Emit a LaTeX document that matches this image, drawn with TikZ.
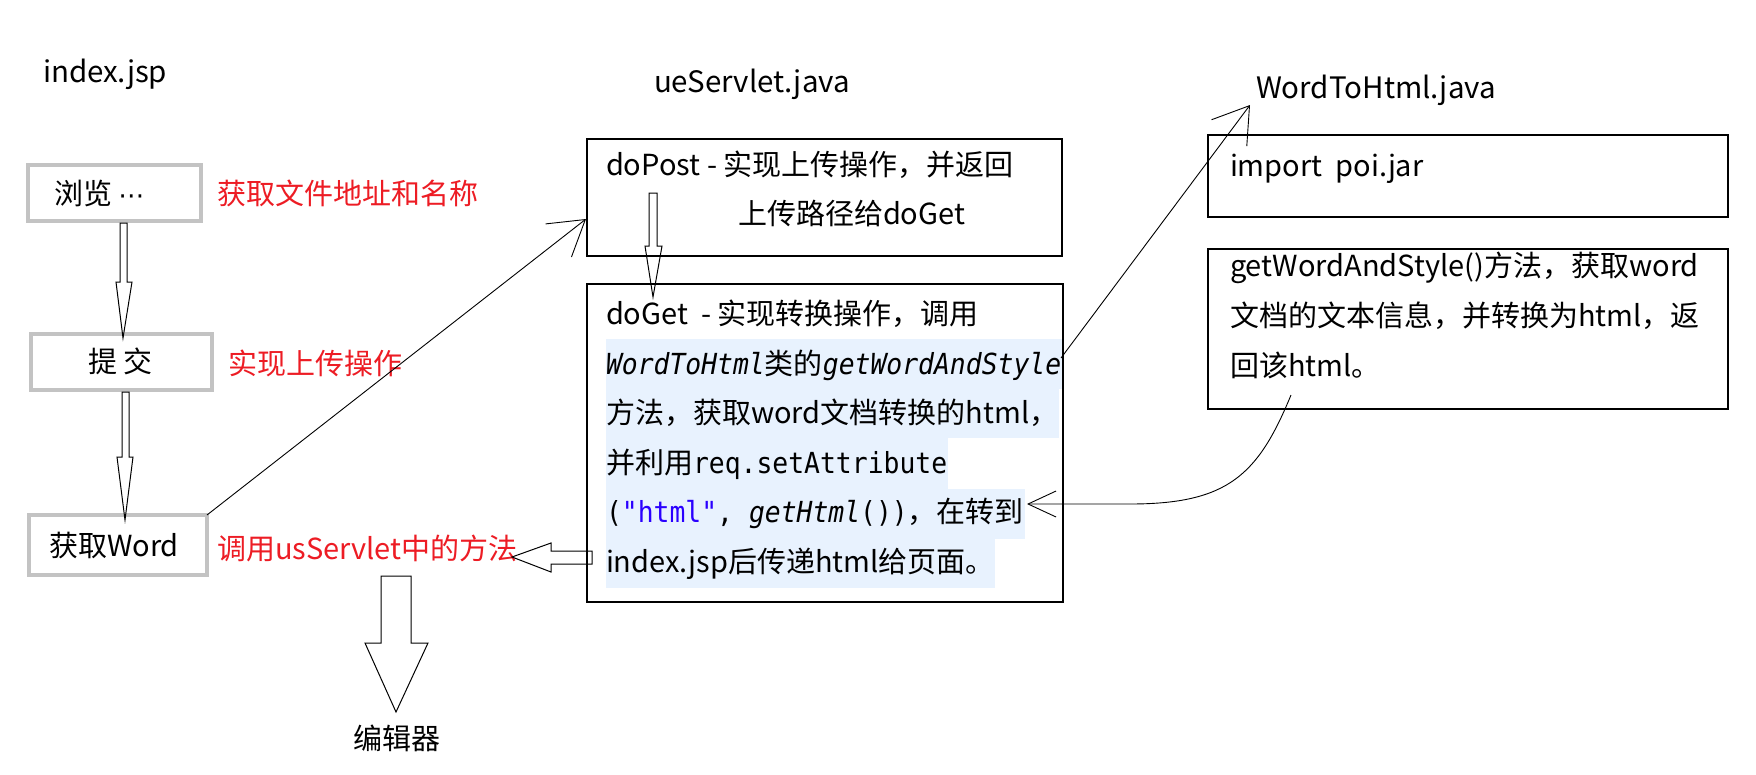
\documentclass[tikz,border=0pt]{standalone}
\usepackage{fontspec}
\setmainfont{Noto Sans CJK SC}
\newfontfamily\mono[FakeStretch=0.91]{DejaVu Sans Mono}
\newfontfamily\dejavu{DejaVu Sans}
\usetikzlibrary{arrows.meta,calc}
\definecolor{lblred}{RGB}{237,28,36}
\definecolor{strblue}{RGB}{42,0,255}
\definecolor{hl}{RGB}{232,242,254}
\definecolor{gborder}{RGB}{195,195,195}
\begin{document}
\begin{tikzpicture}[x=1pt,y=-1pt,
  txt/.style={inner sep=0pt, outer sep=0pt, anchor=west, yshift=-6pt, text height=0.88em, text depth=0.12em, font=\fontsize{29}{34}\selectfont},
  big/.style={txt, font=\fontsize{29.5}{35}\selectfont},
  redtxt/.style={txt, text=lblred},
  gbox/.style={draw=gborder, line width=4.5pt, inner sep=0pt, outer sep=0pt},
  bbox/.style={draw=black, line width=1.3pt, inner sep=0pt, outer sep=0pt},
  conn/.style={draw=black, line width=0.9pt},
  hollow/.style={draw=black, line width=1pt, line join=miter},
]
\fill[white] (0,0) rectangle (1756,774);
\useasboundingbox (0,0) rectangle (1756,774);

% highlight bands
\fill[hl] (606,339) rectangle (1063,389);
\fill[hl] (606,389) rectangle (1059,438);
\fill[hl] (606,438) rectangle (948,489);
\fill[hl] (606,489) rectangle (1025,539);
\fill[hl] (606,539) rectangle (995,588);

% boxes
\node[gbox, minimum width=173pt, minimum height=56pt] (browse) at (114.5,193) {};
\node[gbox, minimum width=181pt, minimum height=56pt] (submit) at (121.5,362) {};
\node[gbox, minimum width=178pt, minimum height=60pt] (getword) at (118,545) {};
\node[bbox, minimum width=475pt, minimum height=117pt] (dopost) at (824.5,197.5) {};
\node[bbox, minimum width=476pt, minimum height=318pt] (doget) at (825,443) {};
\node[bbox, minimum width=520pt, minimum height=82pt] (rb1) at (1468,176) {};
\node[bbox, minimum width=520pt, minimum height=160pt] (rb2) at (1468,329) {};

% texts
\node[big] (tindex) at (43,73) {index.jsp};
\node[big] (tue) at (654,83) {ueServlet.java};
\node[big] (tw2h) at (1256,89) {WordToHtml.java};
\node[txt] (tbrowse) at (54,195) {浏览 {\dejavu\fontsize{26}{30}\selectfont ⋯}};
\node[txt] (tsubmit) at (88,363) {提 交};
\node[txt] (tgetword) at (49,547) {获取Word};
\node[redtxt] (r1) at (217,195) {获取文件地址和名称};
\node[redtxt] (r2) at (228,365) {实现上传操作};
\node[redtxt] (r3) at (217,550) {调用usServlet中的方法};
\node[txt] (dp1) at (606,166) {doPost - 实现上传操作，并返回};
\node[txt] (dp2) at (738,215) {上传路径给doGet};
\node[txt] (dg1) at (606,315) {doGet\ \ - 实现转换操作，调用};
\node[txt] (dg2) at (606,365) {{\mono\itshape WordToHtml}类的{\mono\itshape getWordAndStyle}};
\node[txt] (dg3) at (606,414) {方法，获取word文档转换的html，};
\node[txt] (dg4) at (606,464) {并利用{\mono req.setAttribute}};
\node[txt] (dg5) at (606,513) {{\mono(\textcolor{strblue}{"html"}, \textit{getHtml}())}，在转到};
\node[txt] (dg6) at (606,563) {index.jsp后传递html给页面。};
\node[txt] (ri1) at (1230,167) {import\ \ poi.jar};
\node[txt] (rg1) at (1230,267) {getWordAndStyle()方法，获取word};
\node[txt] (rg2) at (1230,317) {文档的文本信息，并转换为html，返};
\node[txt] (rg3) at (1230,367) {回该html。};
\node[txt] (edit) at (353,740) {编辑器};

% hollow block arrows
\draw[hollow] (120,223) -- (127,223) -- (127,282) -- (132,282) -- (123,338) -- (116,282) -- (120,282) -- cycle;
\draw[hollow] (122,392) -- (129,392) -- (129,457) -- (133,457) -- (125,520) -- (117,457) -- (122,457) -- cycle;
\draw[hollow] (649,193) -- (657,193) -- (657,246) -- (662,246) -- (653,297) -- (645,246) -- (649,246) -- cycle;
\draw[hollow] (592,551) -- (551,551) -- (551,543) -- (512,557) -- (551,572) -- (551,564) -- (592,564) -- cycle;
\draw[hollow] (381,576) -- (411,576) -- (411,643) -- (428,643) -- (396,712) -- (365,643) -- (381,643) -- cycle;

% connectors
\coordinate (pin) at ($(dopost.south west)+(-1,-37)$);
\coordinate (dgout) at ($(doget.north east)+(-2,74)$);
\coordinate (w2hin) at (1250,105);
\coordinate (cstart) at ($(rb2.south west)+(83,-14)$);
\coordinate (cend) at ($(doget.north east)+(-36,220)$);
\draw[conn, -{Straight Barb[length=34pt,width=42pt]}] (getword.north east) -- (pin);
\draw[conn, -{Straight Barb[length=34pt,width=44pt]}] (dgout) -- (w2hin);
\draw[conn, -{Straight Barb[length=28pt,width=26pt]}] (cstart) .. controls (1258,475) and (1228,504) .. (1130,504) -- (cend);
\end{tikzpicture}
\end{document}
